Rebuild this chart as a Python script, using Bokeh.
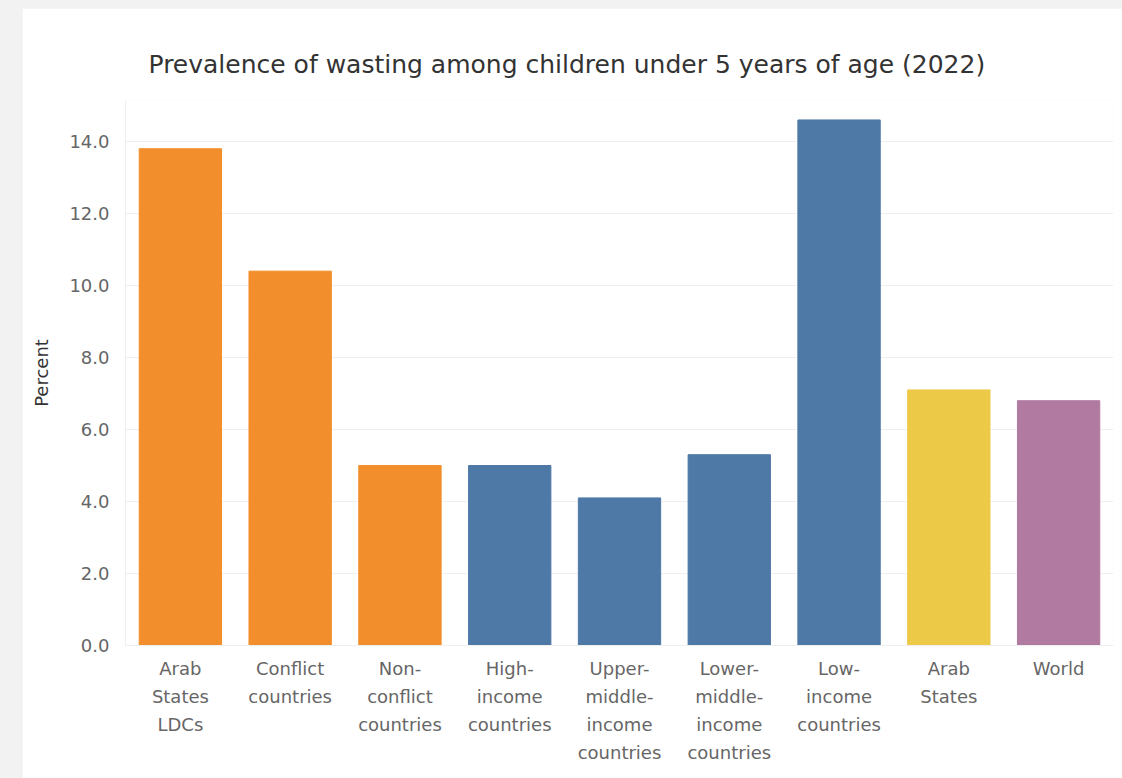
from bokeh.plotting import figure
from bokeh.models import (ColumnDataSource, Range1d, FactorRange, SingleIntervalTicker,
                          CustomJSTickFormatter, CategoricalAxis)
from bokeh.layouts import column
from bokeh.embed import file_html
from bokeh.resources import INLINE

categories = ["Arab States LDCs", "Conflict countries", "Non-conflict countries",
              "High-income countries", "Upper-middle-income countries",
              "Lower-middle-income countries", "Low-income countries",
              "Arab States", "World"]
tick_labels = ["Arab\nStates\nLDCs", "Conflict\ncountries", "Non-\nconflict\ncountries",
               "High-\nincome\ncountries", "Upper-\nmiddle-\nincome\ncountries",
               "Lower-\nmiddle-\nincome\ncountries", "Low-\nincome\ncountries",
               "Arab\nStates", "World"]
values = [13.8, 10.4, 5.0, 5.0, 4.1, 5.3, 14.6, 7.1, 6.8]
groups = ["Conflict", "Conflict", "Conflict", "Income", "Income", "Income", "Income",
          "Arab States", "World"]
group_colors = {"Conflict": "#F28E2B", "Income": "#4E79A7",
                "Arab States": "#EDC948", "World": "#B07AA1"}
colors = [group_colors[g] for g in groups]

source = ColumnDataSource(dict(cat=categories, val=values, color=colors))

p = figure(width=1100, height=770, x_range=FactorRange(factors=categories),
           y_range=Range1d(0, 15.14), output_backend="svg", toolbar_location=None,
           min_border_left=103, min_border_right=9, min_border_top=92,
           min_border_bottom=133, margin=(8, 0, 0, 22),
           title="Prevalence of wasting among children under 5 years of age (2022)")
p.x_range.range_padding = 0
p.x_range.group_padding = 0

p.vbar(x="cat", top="val", width=0.75, color="color", source=source)

font = "DejaVu Sans"
p.title.text_font = font
p.title.text_font_size = "25px"
p.title.text_font_style = "normal"
p.title.text_color = "#333333"
p.title.offset = 23
p.title.standoff = 43

p.outline_line_color = None
p.background_fill_color = "white"
p.border_fill_color = "white"

p.yaxis.ticker = SingleIntervalTicker(interval=2)
p.yaxis.formatter = CustomJSTickFormatter(code="return tick.toFixed(1);")
p.yaxis.axis_label = "Percent"
p.yaxis.axis_label_text_font = font
p.yaxis.axis_label_text_font_size = "18px"
p.yaxis.axis_label_text_font_style = "normal"
p.yaxis.axis_label_text_color = "#333333"
p.yaxis.axis_label_standoff = 14
p.yaxis.major_label_text_font = font
p.yaxis.major_label_text_font_size = "18px"
p.yaxis.major_label_text_color = "#666666"
p.yaxis.major_label_standoff = 10
p.yaxis.axis_line_color = "#eeeeee"
p.yaxis.major_tick_line_color = None
p.yaxis.minor_tick_line_color = None

p.xgrid.grid_line_color = None
p.ygrid.grid_line_color = "#f0f0f0"

line_code = """
const i = names.indexOf(tick);
return i < 0 ? "" : lines[i];
"""


def style_xaxis(ax, standoff):
    ax.major_label_text_font = font
    ax.major_label_text_font_size = "18px"
    ax.major_label_text_color = "#666666"
    ax.major_label_text_align = "center"
    ax.major_label_standoff = standoff
    ax.major_tick_line_color = None
    ax.minor_tick_line_color = None


split_labels = [lab.split("\n") for lab in tick_labels]
for k in range(4):
    lines = [parts[k] if k < len(parts) else "" for parts in split_labels]
    fmt = CustomJSTickFormatter(args=dict(names=categories, lines=lines), code=line_code)
    if k == 0:
        ax = p.xaxis[0]
        ax.formatter = fmt
        ax.axis_line_color = "#eeeeee"
        style_xaxis(ax, 6)
    else:
        ax = CategoricalAxis(formatter=fmt)
        ax.axis_line_color = None
        style_xaxis(ax, -2)
        p.add_layout(ax, "below")

layout = column(p, styles={"background-color": "#f2f2f2"}, width=1122, height=778)

open("out.html", "w").write(file_html(layout, INLINE))
